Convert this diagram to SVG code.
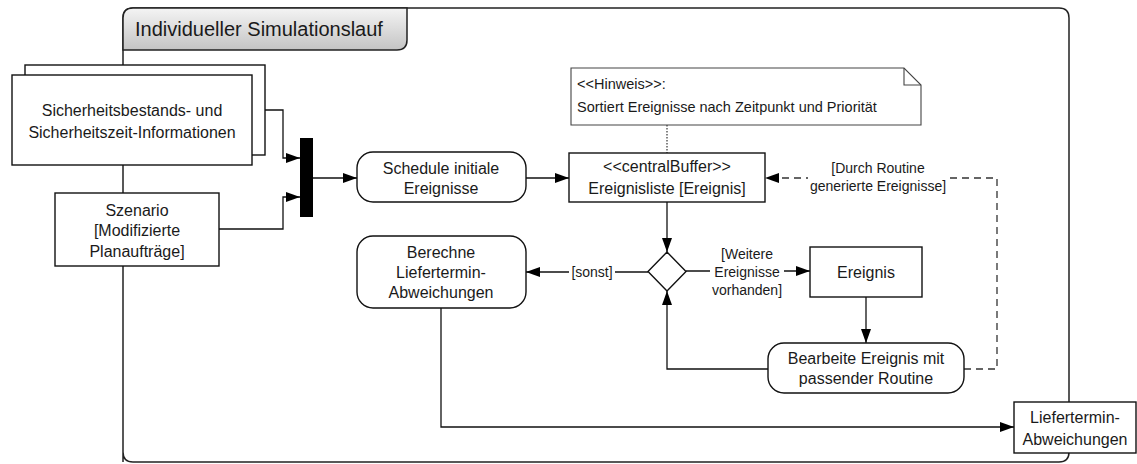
<svg xmlns="http://www.w3.org/2000/svg" width="1137" height="464" viewBox="0 0 1137 464">
<style>
text{font-family:"Liberation Sans",Arial,sans-serif;fill:#1a1a1a}
.t{font-size:16px;text-anchor:middle}
.l{font-size:14px;text-anchor:middle}
.n{font-size:14.5px}
.box{fill:#fff;stroke:#111;stroke-width:1.4}
.ln{fill:none;stroke:#111;stroke-width:1.3}
.dash{fill:none;stroke:#333;stroke-width:1.3;stroke-dasharray:7 5}
.lbg{fill:#fff}
</style>
<defs>
<linearGradient id="tabg" x1="0" y1="0" x2="0" y2="1">
<stop offset="0" stop-color="#f4f4f4"/>
<stop offset="1" stop-color="#c4c4c4"/>
</linearGradient>
<marker id="ah" viewBox="0 0 14 10" refX="14" refY="5" markerWidth="14" markerHeight="10" markerUnits="userSpaceOnUse" orient="auto">
<path d="M0,0 L14,5 L0,10 Z" fill="#000"/>
</marker>
</defs>

<g id="frame">
<path d="M123,462 V18 Q123,8 133,8 H1059 Q1069,8 1069,18 V452 Q1069,462 1059,462 H133 Q123,462 123,452" fill="none" stroke="#222" stroke-width="1.5"/>
<path d="M123,50 V18 Q123,8 133,8 H407 V40 Q407,50 397,50 Z" fill="url(#tabg)" stroke="#222" stroke-width="1.5"/>
<text x="135" y="36" style="font-size:20px">Individueller Simulationslauf</text>
</g>

<g id="connectors">
<path class="ln" d="M265,110 H283 V158 H300" marker-end="url(#ah)"/>
<path class="ln" d="M219,229 H283 V197 H300" marker-end="url(#ah)"/>
<path class="ln" d="M313,178 H357" marker-end="url(#ah)"/>
<path class="ln" d="M526,178 H569" marker-end="url(#ah)"/>
<path d="M667,125 V153" fill="none" stroke="#333" stroke-width="1.2" stroke-dasharray="1.5 1.5"/>
<path class="ln" d="M667,202 V252" marker-end="url(#ah)"/>
<path class="ln" d="M648,272 H526" marker-end="url(#ah)"/>
<path class="ln" d="M686,271 H810" marker-end="url(#ah)"/>
<path class="ln" d="M866,297 V343" marker-end="url(#ah)"/>
<path class="ln" d="M768,369 H667 V291" marker-end="url(#ah)"/>
<path class="dash" d="M964,369 H997 V178 H765" marker-end="url(#ah)"/>
<path class="ln" d="M441,308 V427 H1014" marker-end="url(#ah)"/>
<rect class="lbg" x="569" y="262" width="46" height="20"/>
<text class="l" x="592" y="277">[sonst]</text>
<rect class="lbg" x="710" y="244" width="74" height="56"/>
<text class="l" x="747" y="259">[Weitere</text>
<text class="l" x="747" y="277">Ereignisse</text>
<text class="l" x="747" y="295">vorhanden]</text>
<rect class="lbg" x="808" y="160" width="140" height="36"/>
<text class="l" x="878" y="173">[Durch Routine</text>
<text class="l" x="878" y="191">generierte Ereignisse]</text>
</g>

<g id="sicherheit">
<rect class="box" x="25" y="65" width="240" height="90"/>
<rect class="box" x="12" y="75" width="240" height="90"/>
<text class="t" x="132" y="116">Sicherheitsbestands- und</text>
<text class="t" x="132" y="138">Sicherheitszeit-Informationen</text>
</g>

<g id="szenario">
<rect class="box" x="55" y="193" width="164" height="73"/>
<text class="t" x="137" y="216">Szenario</text>
<text class="t" x="137" y="236">[Modifizierte</text>
<text class="t" x="137" y="257">Planaufträge]</text>
</g>

<g id="join">
<rect x="300" y="138" width="13" height="79" fill="#000"/>
</g>

<g id="schedule">
<rect class="box" x="357" y="152" width="169" height="50" rx="16"/>
<text class="t" x="441" y="174">Schedule initiale</text>
<text class="t" x="441" y="194">Ereignisse</text>
</g>

<g id="hinweis">
<path d="M571,68 H904 L921,85 V125 H571 Z" fill="#fff" stroke="#444" stroke-width="1.1"/>
<path d="M904,68 V85 H921" fill="none" stroke="#444" stroke-width="1.1"/>
<text class="n" x="577" y="89">&lt;&lt;Hinweis&gt;&gt;:</text>
<text class="n" x="577" y="112">Sortiert Ereignisse nach Zeitpunkt und Priorität</text>
</g>

<g id="ereignisliste">
<rect class="box" x="569" y="153" width="196" height="49"/>
<text class="t" x="667" y="172">&lt;&lt;centralBuffer&gt;&gt;</text>
<text class="t" x="667" y="194">Ereignisliste [Ereignis]</text>
</g>

<g id="decision">
<path d="M667,252 L686,271.5 L667,291 L648,271.5 Z" class="box"/>
</g>

<g id="berechne">
<rect class="box" x="357" y="236" width="169" height="72" rx="16"/>
<text class="t" x="441" y="258">Berechne</text>
<text class="t" x="441" y="278">Liefertermin-</text>
<text class="t" x="441" y="298">Abweichungen</text>
</g>

<g id="ereignis">
<rect class="box" x="810" y="247" width="112" height="50"/>
<text class="t" x="866" y="278">Ereignis</text>
</g>

<g id="bearbeite">
<rect class="box" x="768" y="343" width="196" height="50" rx="16"/>
<text class="t" x="866" y="364">Bearbeite Ereignis mit</text>
<text class="t" x="866" y="384">passender Routine</text>
</g>

<g id="liefertermin">
<rect class="box" x="1014" y="402" width="122" height="51"/>
<text class="t" x="1075" y="423">Liefertermin-</text>
<text class="t" x="1075" y="445">Abweichungen</text>
</g>
</svg>
